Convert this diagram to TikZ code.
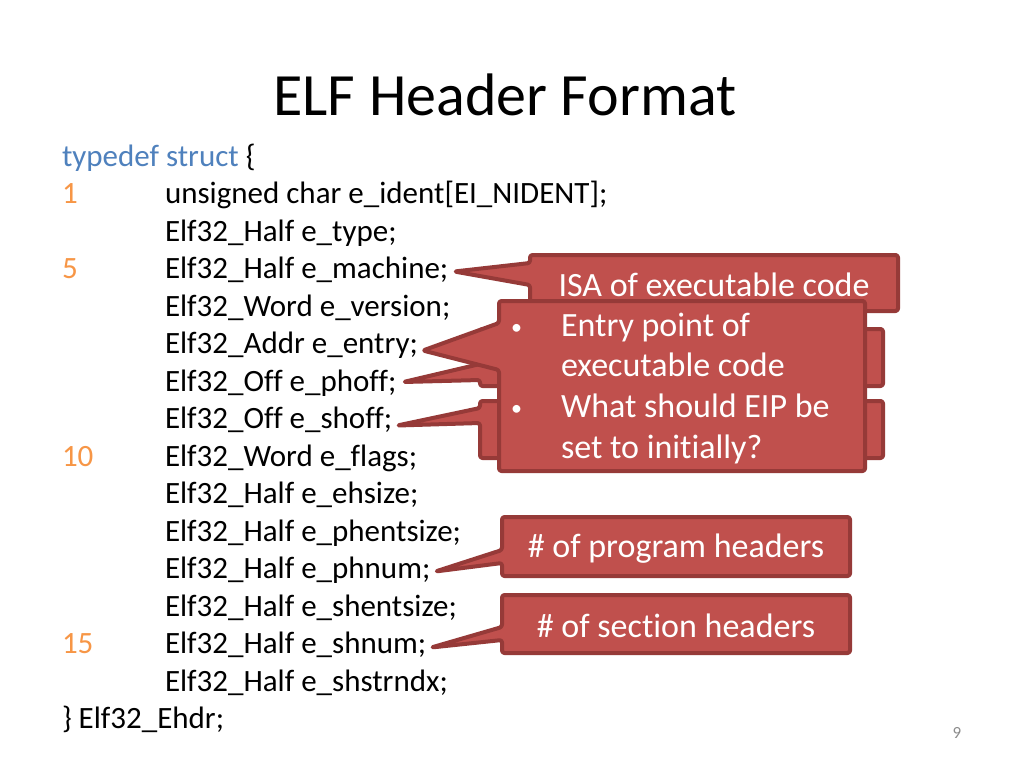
\documentclass[tikz,border=0pt]{standalone}
\usepackage{fontspec}
\setmainfont{Carlito}[Ligatures={NoCommon}]
\usetikzlibrary{backgrounds}
\definecolor{cofill}{HTML}{C0504D}
\definecolor{coline}{HTML}{963A38}
\definecolor{numc}{HTML}{F79646}
\definecolor{kwc}{HTML}{4F81BD}
\definecolor{pgc}{HTML}{8C8C8C}
\newcommand{\cobul}{\makebox[50pt][l]{\raisebox{2pt}{\fontsize{22}{22}\selectfont •}}}
\begin{document}
\begin{tikzpicture}[x=1pt,y=-1pt,
  code/.style={anchor=base west, inner sep=0pt, outer sep=0pt, text height=22pt, text depth=8pt, font=\fontsize{31}{37.5}\selectfont},
  num/.style={code, text=numc},
  cobox/.style={inner sep=0pt, outer sep=0pt, text=white, font=\fontsize{34}{40.7}\selectfont},
  co/.style={fill=cofill, draw=coline, line width=4pt, rounded corners=2.5pt, line join=round}]
\useasboundingbox (0,0) rectangle (1024,768);

\node[font=\fontsize{60}{72}\selectfont, anchor=base] (title) at (505,115) {ELF Header Format};

\node[code] (l0) at (62,166) {\textcolor{kwc}{typedef struct} \{};
\node[num] (n1) at (62,203.5) {1};
\node[code] (l1) at (165,203.5) {unsigned char e\_ident[EI\_NIDENT];};
\node[code] (l2) at (165,241) {Elf32\_Half e\_type;};
\node[num] (n5) at (62,278.5) {5};
\node[code] (l3) at (165,278.5) {Elf32\_Half e\_machine;};
\node[code] (l4) at (165,316) {Elf32\_Word e\_version;};
\node[code] (l5) at (165,353.5) {Elf32\_Addr e\_entry;};
\node[code] (l6) at (165,391) {Elf32\_Off e\_phoff;};
\node[code] (l7) at (165,428.5) {Elf32\_Off e\_shoff;};
\node[num] (n10) at (62,466) {10};
\node[code] (l8) at (165,466) {Elf32\_Word e\_flags;};
\node[code] (l9) at (165,503.5) {Elf32\_Half e\_ehsize;};
\node[code] (l10) at (165,541) {Elf32\_Half e\_phentsize;};
\node[code] (l11) at (165,578.5) {Elf32\_Half e\_phnum;};
\node[code] (l12) at (165,616) {Elf32\_Half e\_shentsize;};
\node[num] (n15) at (62,653.5) {15};
\node[code] (l13) at (165,653.5) {Elf32\_Half e\_shnum;};
\node[code] (l14) at (165,691) {Elf32\_Half e\_shstrndx;};
\node[code] (l15) at (62,728.5) {\} Elf32\_Ehdr;};

\node[text=pgc, font=\fontsize{17}{20}\selectfont] (pg) at (957,733) {9};

% callout boxes (text)
\node[cobox, minimum width=403pt, minimum height=57pt] (hidA) at (681.5,357.5) {};
\node[cobox, minimum width=403pt, minimum height=57pt] (hidB) at (681.5,429.5) {};
\node[cobox, minimum width=368pt, minimum height=56pt, text height=27pt, text depth=0pt] (isa) at (714,283) {ISA of executable code};
\node[cobox, minimum width=366pt, minimum height=170pt] (entry) at (682,386) {};
\node[cobox, anchor=base west, text width=342pt, align=flush left] (entrytext) at (511,336)
  {\cobul Entry point of\\\hspace*{50pt}executable code\\\cobul What should EIP be\\\hspace*{50pt}set to initially?};
\node[cobox, minimum width=348pt, minimum height=59pt, text height=22pt, text depth=0pt] (prog) at (676,546.5) {\# of program headers};
\node[cobox, minimum width=348pt, minimum height=58pt, text height=27pt, text depth=0pt] (sect) at (676,624) {\# of section headers};

% pointer tips
\coordinate (tA) at ([shift={(7,-2)}]l6.east);
\coordinate (tB) at ([shift={(5,4)}]l7.east);
\coordinate (tisa) at ([shift={(6,0)}]l3.east);
\coordinate (tentry) at ([shift={(5,4)}]l5.east);
\coordinate (tprog) at ([shift={(5,0)}]l11.east);
\coordinate (tsect) at ([shift={(5,1)}]l13.east);

\begin{scope}[on background layer]
\fill[white] (0,0) rectangle (1024,768);
\path[co] (hidA.north west) -- (hidA.north east) -- (hidA.south east) -- (hidA.south west)
  -- (hidA.west |- 0,380) -- (tA) -- (hidA.west |- 0,364) -- cycle;
\path[co] (hidB.north west) -- (hidB.north east) -- (hidB.south east) -- (hidB.south west)
  -- (hidB.west |- 0,423) -- (tB) -- (hidB.west |- 0,408) -- cycle;
\path[co] (isa.north west) -- (isa.north east) -- (isa.south east) -- (isa.south west)
  -- (isa.west |- 0,285) -- (tisa) -- (isa.west |- 0,263) -- cycle;
\path[co] (entry.north west) -- (entry.north east) -- (entry.south east) -- (entry.south west)
  -- (entry.west |- 0,370) -- (tentry) -- (entry.west |- 0,323) -- cycle;
\path[co] (prog.north west) -- (prog.north east) -- (prog.south east) -- (prog.south west)
  -- (prog.west |- 0,563) -- (tprog) -- (prog.west |- 0,550) -- cycle;
\path[co] (sect.north west) -- (sect.north east) -- (sect.south east) -- (sect.south west)
  -- (sect.west |- 0,640) -- (tsect) -- (sect.west |- 0,627) -- cycle;
\end{scope}
\end{tikzpicture}
\end{document}
